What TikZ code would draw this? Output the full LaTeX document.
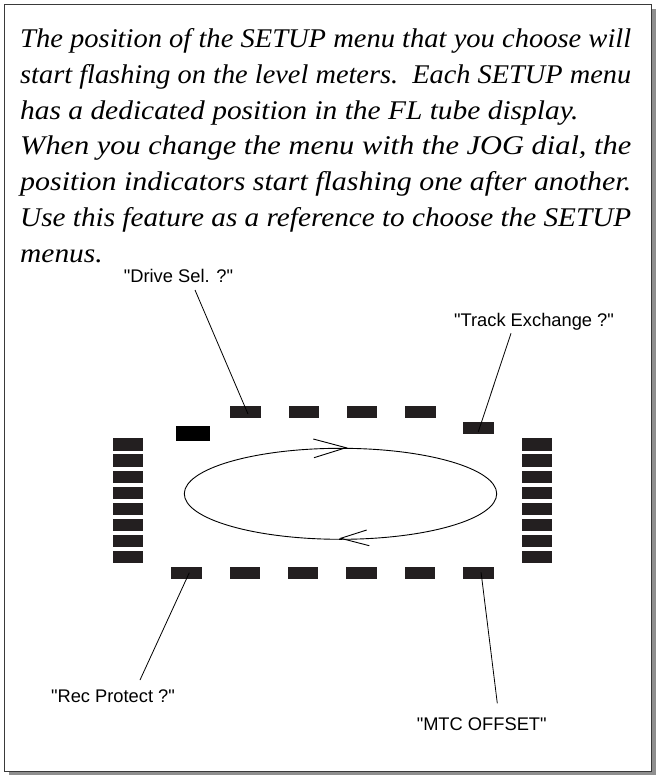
\documentclass[tikz,border=0pt]{standalone}
\usepackage{fontspec}
\usepackage{graphicx}
\setmainfont{Liberation Serif}[FakeStretch=1.09]
\newfontfamily\labelfont{Liberation Sans}
\definecolor{segdark}{HTML}{231F20}
\definecolor{framecol}{HTML}{3A3A3A}
\definecolor{shadowcol}{HTML}{8F8F8F}
\newcommand{\fullline}[1]{\resizebox{611pt}{\height}{#1}}
\begin{document}
\begin{tikzpicture}[x=1pt,y=-1pt,
  body/.style={inner sep=0pt, anchor=base west, font=\fontsize{27}{32}\selectfont\itshape},
  lab/.style={inner sep=0pt, anchor=base, font=\labelfont\fontsize{18.3}{22}\selectfont},
  seg/.style={fill=segdark, inner sep=0pt, minimum width=30.5pt, minimum height=12.3pt},
  blk/.style={fill=black, inner sep=0pt, minimum width=34pt, minimum height=15pt},
  leader/.style={draw=black, line width=0.8pt},
  loop/.style={draw=black, line width=0.9pt}]
\useasboundingbox (0,0) rectangle (656,775);
% frame with shadow
\fill[shadowcol] (9,9) rectangle (656,775);
\draw[framecol, fill=white, line width=1.3pt] (4.5,4.5) rectangle (651.5,771.5);
% body text
\node[body] (l1) at (20,47.5) {\fullline{The position of the SETUP menu that you choose will}};
\node[body] (l2) at (20,83.3) {\fullline{start flashing on the level meters.\ \ Each SETUP menu}};
\node[body] (l3) at (20,119.1) {has a dedicated position in the FL tube display.};
\node[body] (l4) at (20,154.9) {\fullline{When you change the menu with the JOG dial, the}};
\node[body] (l5) at (20,190.7) {\fullline{position indicators start flashing one after another.}};
\node[body] (l6) at (20,226.5) {\fullline{Use this feature as a reference to choose the SETUP}};
\node[body] (l7) at (20,262.3) {menus.};
% top row
\foreach \i [count=\k from 0] in {1,2,3,4}
  \node[seg] (t\i) at ({245.3+58.45*\k},412) {};
\node[seg] (tr) at (478.6,428) {};
\node[blk] (bk) at (193,433.5) {};
% side columns
\foreach \i [count=\k from 0] in {1,...,8}{
  \node[seg] (lc\i) at (128,{444.5+16.1*\k}) {};
  \node[seg] (rc\i) at (537,{444.5+16.1*\k}) {};
}
% bottom row
\foreach \i [count=\k from 0] in {1,...,6}
  \node[seg] (b\i) at ({186.3+58.45*\k},573.3) {};
% loop with arrows
\draw[loop] (340.5,493.8) ellipse [x radius=156.2pt, y radius=45.5pt];
\draw[loop] (313.3,439) -- (346,447.7) -- (314,457.7);
\draw[loop] (366.7,530) -- (340.7,538.3) -- (369.3,545.7);
% labels
\node[lab] (drive) at (178.5,282.7) {"Drive Sel. ?"};
\node[lab] (track) at (534,326) {"Track Exchange ?"};
\node[lab] (rec) at (113,702.7) {"Rec Protect ?"};
\node[lab] (mtc) at (481.7,730) {"MTC OFFSET"};
% leader lines
\coordinate (driveA) at (195,290);
\coordinate (driveB) at ([shift={(2.7,2)}]t1.center);
\coordinate (trackA) at (511,333.3);
\coordinate (trackB) at ([shift={(-0.3,3.7)}]tr.center);
\coordinate (recA) at (140,680);
\coordinate (recB) at ([shift={(3,-0.6)}]b1.center);
\coordinate (mtcA) at (497.3,703.3);
\coordinate (mtcB) at ([shift={(2.5,-1)}]b6.center);
\draw[leader] (driveA) -- (driveB);
\draw[leader] (trackA) -- (trackB);
\draw[leader] (recA) -- (recB);
\draw[leader] (mtcA) -- (mtcB);
\end{tikzpicture}
\end{document}
